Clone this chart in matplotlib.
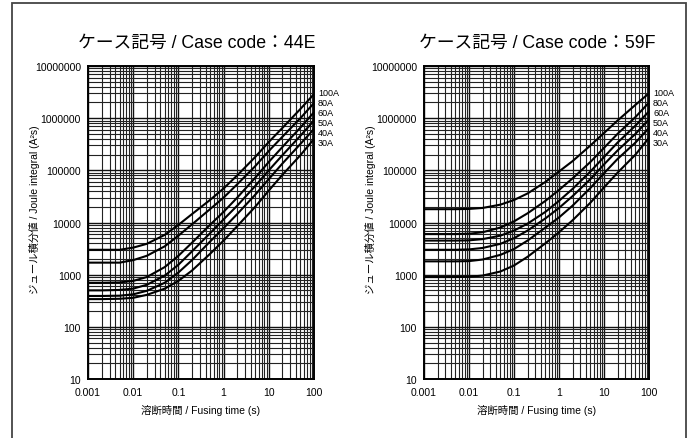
import matplotlib
matplotlib.use("Agg")
import matplotlib.pyplot as plt
from matplotlib.patches import Rectangle
from matplotlib.ticker import LogLocator, FixedLocator, FixedFormatter, NullFormatter

plt.rcParams['font.family'] = ['Liberation Sans', 'Noto Sans CJK JP', 'DejaVu Sans']

# ---- data ----
time_s = [0.001, 0.002, 0.005, 0.01, 0.02, 0.05, 0.1, 0.2, 0.5, 1, 2, 5, 10, 20, 50, 100]
ratings = ["100A", "80A", "60A", "50A", "40A", "30A"]

i2t_44e_100a = [3000, 3000, 3000, 3300, 3900, 5800, 9000, 14500, 27000, 45000, 80000, 180000, 350000, 650000, 1500000, 2900000]
i2t_44e_80a = [1700, 1700, 1700, 1900, 2300, 3500, 5600, 9200, 18000, 30000, 54000, 120000, 235000, 440000, 1000000, 1950000]
i2t_44e_60a = [700, 700, 710, 760, 900, 1400, 2300, 4100, 9000, 16000, 30000, 72000, 145000, 280000, 660000, 1300000]
i2t_44e_50a = [500, 500, 510, 540, 640, 960, 1550, 2800, 6200, 11500, 21000, 50000, 100000, 195000, 460000, 900000]
i2t_44e_40a = [390, 390, 395, 420, 490, 700, 1100, 1900, 4300, 7800, 14500, 34000, 68000, 135000, 320000, 620000]
i2t_44e_30a = [340, 340, 345, 360, 410, 540, 760, 1200, 2500, 4500, 8500, 20000, 41000, 82000, 195000, 400000]

i2t_59f_100a = [18000, 18000, 18000, 18200, 19000, 22000, 27000, 36000, 60000, 95000, 150000, 300000, 520000, 900000, 1800000, 3000000]
i2t_59f_80a = [6000, 6000, 6000, 6100, 6500, 8000, 10500, 15000, 26000, 42000, 70000, 145000, 270000, 500000, 1050000, 2000000]
i2t_59f_60a = [4500, 4500, 4500, 4550, 4800, 5600, 7000, 9500, 16000, 26000, 44000, 95000, 180000, 340000, 720000, 1350000]
i2t_59f_50a = [3000, 3000, 3000, 3050, 3250, 3900, 5000, 7000, 12000, 19000, 32000, 68000, 130000, 240000, 500000, 950000]
i2t_59f_40a = [1800, 1800, 1800, 1820, 1950, 2400, 3100, 4500, 8000, 12500, 21000, 46000, 88000, 165000, 340000, 650000]
i2t_59f_30a = [900, 900, 900, 910, 960, 1150, 1500, 2200, 4000, 6500, 11000, 24000, 47000, 90000, 200000, 420000]

x_ticks = [0.001, 0.01, 0.1, 1, 10, 100]
x_ticklabels = ["0.001", "0.01", "0.1", "1", "10", "100"]
y_ticks = [10, 100, 1000, 10000, 100000, 1000000, 10000000]
y_ticklabels = ["10", "100", "1000", "10000", "100000", "1000000", "10000000"]

titles = ["ケース記号 / Case code：44E", "ケース記号 / Case code：59F"]
xlabel = "溶断時間 / Fusing time (s)"
ylabel = "ジュール積分値 / Joule integral (A²s)"

series_44e = [i2t_44e_100a, i2t_44e_80a, i2t_44e_60a, i2t_44e_50a, i2t_44e_40a, i2t_44e_30a]
series_59f = [i2t_59f_100a, i2t_59f_80a, i2t_59f_60a, i2t_59f_50a, i2t_59f_40a, i2t_59f_30a]

# ---- figure ----
W, H = 697, 439
fig = plt.figure(figsize=(W / 100, H / 100), dpi=100)

# outer frame
fig.patches.append(Rectangle((12 / W, -0.05), (686 - 12) / W, 1.05 - 4 / H,
                             transform=fig.transFigure, fill=False,
                             edgecolor="#444444", linewidth=1.3))

ax_bottom = 1 - 380 / H
ax_height = (380 - 67) / H
axes_px = [(88, 314), (424, 649)]
title_cx = [197, 537]
label_ypx = [93, 103, 113, 123, 133, 143]

for (x0, x1), tcx, title, series in zip(axes_px, title_cx, titles, [series_44e, series_59f]):
    ax = fig.add_axes([x0 / W, ax_bottom, (x1 - x0) / W, ax_height])
    ax.set_xscale("log")
    ax.set_yscale("log")
    ax.set_xlim(0.001, 100)
    ax.set_ylim(10, 10000000)

    ax.xaxis.set_major_locator(FixedLocator(x_ticks))
    ax.xaxis.set_major_formatter(FixedFormatter(x_ticklabels))
    ax.yaxis.set_major_locator(FixedLocator(y_ticks))
    ax.yaxis.set_major_formatter(FixedFormatter(y_ticklabels))
    ax.xaxis.set_minor_locator(LogLocator(base=10, subs=range(2, 10), numticks=20))
    ax.yaxis.set_minor_locator(LogLocator(base=10, subs=range(2, 10), numticks=20))
    ax.xaxis.set_minor_formatter(NullFormatter())
    ax.yaxis.set_minor_formatter(NullFormatter())
    ax.tick_params(which="both", length=0, labelsize=7.5)
    ax.tick_params(axis="y", pad=5)
    ax.tick_params(axis="x", pad=6)

    ax.grid(True, which="major", color="#111111", linewidth=1.0)
    ax.grid(True, which="minor", color="#222222", linewidth=0.8)
    ax.set_axisbelow(True)
    for sp in ax.spines.values():
        sp.set_linewidth(1.4)
        sp.set_color("black")

    for vals in series:
        ax.plot(time_s, vals, color="black", linewidth=1.5, solid_capstyle="butt", clip_on=True)

    for lab, ypx in zip(ratings, label_ypx):
        ax.text(1.0 + 4 / (x1 - x0), (380 - ypx) / (380 - 67), lab, transform=ax.transAxes,
                fontsize=6.5, ha="left", va="center")

    cx = (x0 + x1) / 2
    fig.text(tcx / W, 1 - 43 / H, title, fontsize=12.8, ha="center", va="center")
    fig.text((x0 - 54) / W, 1 - 210 / H, ylabel, fontsize=7.5, rotation=90, ha="center", va="center")
    fig.text(cx / W, 1 - 411 / H, xlabel, fontsize=7.5, ha="center", va="center")

fig.savefig("out.png", dpi=100)
